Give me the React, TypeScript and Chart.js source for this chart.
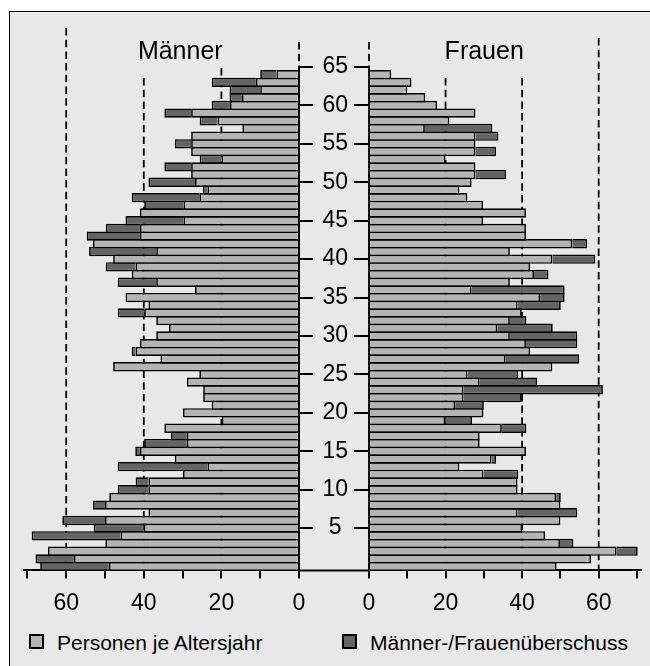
import React, { useEffect, useRef } from "react";
import { Chart, registerables } from "chart.js";

Chart.register(...registerables);
Chart.defaults.font.family = '"Liberation Sans", Arial, sans-serif';
Chart.defaults.color = "#000";

// Altersjahre (0 = unten)
const ages = [
  0, 1, 2, 3, 4, 5, 6, 7, 8, 9, 10, 11, 12, 13, 14, 15, 16, 17, 18, 19, 20, 21,
  22, 23, 24, 25, 26, 27, 28, 29, 30, 31, 32, 33, 34, 35, 36, 37, 38, 39, 40,
  41, 42, 43, 44, 45, 46, 47, 48, 49, 50, 51, 52, 53, 54, 55, 56, 57, 58, 59,
  60, 61, 62, 63, 64,
];

const males = [
  66.7, 67.9, 64.7, 49.9, 68.9, 52.9, 61.0, 38.8, 53.1, 48.9,
  46.7, 42.1, 29.9, 46.7, 32.0, 42.2, 39.9, 33.0, 34.7, 19.9,
  29.9, 22.5, 24.7, 24.7, 28.9, 25.7, 47.9, 35.7, 43.1, 41.0,
  36.8, 33.5, 36.8, 46.7, 38.8, 44.7, 26.8, 46.7, 43.1, 49.8,
  47.9, 54.1, 53.1, 54.7, 49.8, 44.7, 41.0, 39.9, 43.1, 24.8,
  38.8, 27.8, 34.7, 25.6, 27.8, 32.0, 27.8, 14.6, 25.6, 34.7,
  22.5, 17.9, 17.9, 22.5, 10.0,
];

const females = [
  49.0, 58.0, 70.2, 53.4, 46.0, 40.0, 50.0, 54.4, 50.0, 50.1,
  38.8, 38.8, 39.0, 23.6, 33.2, 41.0, 28.9, 28.9, 41.1, 26.9,
  29.9, 30.0, 39.9, 61.1, 43.9, 39.0, 47.9, 54.9, 42.1, 54.4,
  54.4, 48.0, 41.1, 39.9, 50.1, 51.1, 51.1, 36.8, 46.9, 42.1,
  59.1, 36.8, 57.0, 41.0, 41.0, 29.8, 41.0, 29.8, 25.7, 23.6,
  26.8, 35.8, 27.8, 20.0, 33.2, 27.8, 33.8, 32.2, 21.0, 27.8,
  17.8, 14.7, 10.0, 11.1, 5.8,
];

const yTicks = [5, 10, 15, 20, 25, 30, 35, 40, 45, 50, 55, 60, 65];
const xTicks = [0, 10, 20, 30, 40, 50, 60, 70];
const xLabeled = [0, 20, 40, 60];
const seriesLabels = ["Personen je Altersjahr", "Männer-/Frauenüberschuss"];
const sideTitles = { left: "Männer", right: "Frauen" };

const LIGHT = "#b4b4b4";
const DARK = "#646464";
const BG = "#e8e8e8";

const guidePlugin = {
  id: "guides",
  beforeDatasetsDraw(chart: any, _args: any, opts: any) {
    const { ctx, chartArea } = chart;
    const x = chart.scales.x;
    ctx.save();
    ctx.strokeStyle = "#000";
    ctx.lineWidth = 1.8;
    ctx.setLineDash([7.5, 4.2]);
    for (const g of opts.lines || []) {
      const px = x.getPixelForValue(g.value);
      ctx.beginPath();
      ctx.moveTo(px, g.top);
      ctx.lineTo(px, chartArea.bottom);
      ctx.stroke();
    }
    ctx.restore();
  },
  afterDraw(chart: any, _args: any, opts: any) {
    const { ctx, chartArea } = chart;
    const x = chart.scales.x;
    ctx.save();
    ctx.fillStyle = "#000";
    ctx.font = '25px "Liberation Sans", Arial, sans-serif';
    ctx.textAlign = "center";
    ctx.textBaseline = "middle";
    ctx.fillText(opts.title, x.getPixelForValue(opts.titleAt), opts.titleY);
    if (opts.connect) {
      ctx.strokeStyle = "#000";
      ctx.lineWidth = 2;
      ctx.beginPath();
      ctx.moveTo(0, chartArea.bottom);
      ctx.lineTo(chartArea.left, chartArea.bottom);
      ctx.stroke();
    }
    ctx.restore();
  },
};

function makeConfig(side: "left" | "right"): any {
  const isLeft = side === "left";
  const own = isLeft ? males : females;
  const other = isLeft ? females : males;
  const base = ages.map((a, i) => ({ x: Math.min(own[i], other[i]), y: a }));
  const surplus = ages.map((a, i) => ({
    x: own[i] > other[i] ? own[i] - other[i] : null,
    y: a,
  }));
  const barCommon = {
    borderColor: "#000",
    borderWidth: 1.7,
    borderSkipped: "start",
    barPercentage: 1.22,
    categoryPercentage: 1,
    stack: "s",
  };
  return {
    type: "bar",
    data: {
      datasets: [
        { label: seriesLabels[0], data: base, backgroundColor: LIGHT, ...barCommon },
        { label: seriesLabels[1], data: surplus, backgroundColor: DARK, ...barCommon },
      ],
    },
    options: {
      animation: false,
      responsive: true,
      maintainAspectRatio: false,
      indexAxis: "y",
      layout: {
        padding: isLeft
          ? { left: 13.5, right: 0, top: 55, bottom: 0 }
          : { left: 0, right: 3.5, top: 55, bottom: 0 },
      },
      plugins: {
        legend: { display: false },
        tooltip: { enabled: false },
        guides: isLeft
          ? {
              lines: [
                { value: 0, top: 30 },
                { value: 20, top: 56 },
                { value: 40, top: 66 },
                { value: 60, top: 16 },
              ],
              title: sideTitles.left,
              titleAt: 30.6,
              titleY: 40,
              connect: false,
            }
          : {
              lines: [
                { value: 0, top: 30 },
                { value: 20, top: 66 },
                { value: 40, top: 66 },
                { value: 60, top: 26 },
              ],
              title: sideTitles.right,
              titleAt: 30.1,
              titleY: 40,
              connect: true,
            },
      },
      scales: {
        x: {
          type: "linear",
          min: 0,
          max: 71,
          reverse: isLeft,
          stacked: true,
          offset: false,
          afterBuildTicks: (s: any) => {
            s.ticks = xTicks.map((v) => ({ value: v }));
          },
          afterFit: (s: any) => {
            s.height = 51.6;
          },
          grid: {
            offset: false,
            drawOnChartArea: false,
            drawTicks: true,
            tickLength: 8,
            color: "#000",
            lineWidth: 2,
          },
          border: { display: true, color: "#000", width: 2 },
          ticks: {
            callback: (v: any) => (xLabeled.includes(v) ? String(v) : ""),
            font: { size: 23 },
            color: "#000",
            padding: 11,
            maxRotation: 0,
            autoSkip: false,
          },
        },
        y: {
          type: "linear",
          min: -0.5,
          max: 65,
          offset: false,
          position: isLeft ? "right" : "left",
          stacked: true,
          z: 1,
          afterBuildTicks: (s: any) => {
            s.ticks = yTicks.map((v) => ({ value: v }));
          },
          afterFit: (s: any) => {
            s.width = isLeft ? 35 : 69;
          },
          grid: {
            offset: false,
            drawOnChartArea: false,
            drawTicks: true,
            tickLength: isLeft ? 14 : 15,
            color: "#000",
            lineWidth: 2,
          },
          border: { display: true, color: "#000", width: 2 },
          ticks: {
            display: !isLeft,
            crossAlign: "center",
            padding: 6,
            font: { size: 23 },
            color: "#000",
            autoSkip: false,
          },
        },
      },
    },
    plugins: [guidePlugin],
  };
}

function PyramidSide({ side, box }: { side: "left" | "right"; box: any }) {
  const ref = useRef<HTMLCanvasElement>(null);
  useEffect(() => {
    const chart = new Chart(ref.current as HTMLCanvasElement, makeConfig(side));
    return () => chart.destroy();
  }, [side]);
  return (
    <div style={{ position: "absolute", ...box }}>
      <canvas ref={ref} />
    </div>
  );
}

function LegendItem({ left, color, text }: { left: number; color: string; text: string }) {
  return (
    <>
      <div
        style={{
          position: "absolute",
          left,
          top: 634,
          width: 15,
          height: 15,
          boxSizing: "border-box",
          border: "2px solid #000",
          background: color,
        }}
      />
      <div
        style={{
          position: "absolute",
          left: left + 28,
          top: 630,
          height: 26,
          lineHeight: "26px",
          fontSize: 21,
          whiteSpace: "nowrap",
          color: "#000",
        }}
      >
        {text}
      </div>
    </>
  );
}

export default function App() {
  return (
    <div
      style={{
        position: "absolute",
        left: 0,
        top: 0,
        width: 650,
        height: 666,
        overflow: "hidden",
        background: "#fff",
        fontFamily: '"Liberation Sans", Arial, sans-serif',
      }}
    >
      <div
        style={{
          position: "absolute",
          left: 9,
          top: 11,
          width: 660,
          height: 670,
          boxSizing: "border-box",
          border: "1px solid #000",
          background: BG,
        }}
      />
      <PyramidSide side="left" box={{ left: 10, top: 12, width: 324, height: 610 }} />
      <PyramidSide side="right" box={{ left: 300, top: 12, width: 348, height: 610 }} />
      <LegendItem left={29} color={LIGHT} text={seriesLabels[0]} />
      <LegendItem left={342} color={DARK} text={seriesLabels[1]} />
    </div>
  );
}
